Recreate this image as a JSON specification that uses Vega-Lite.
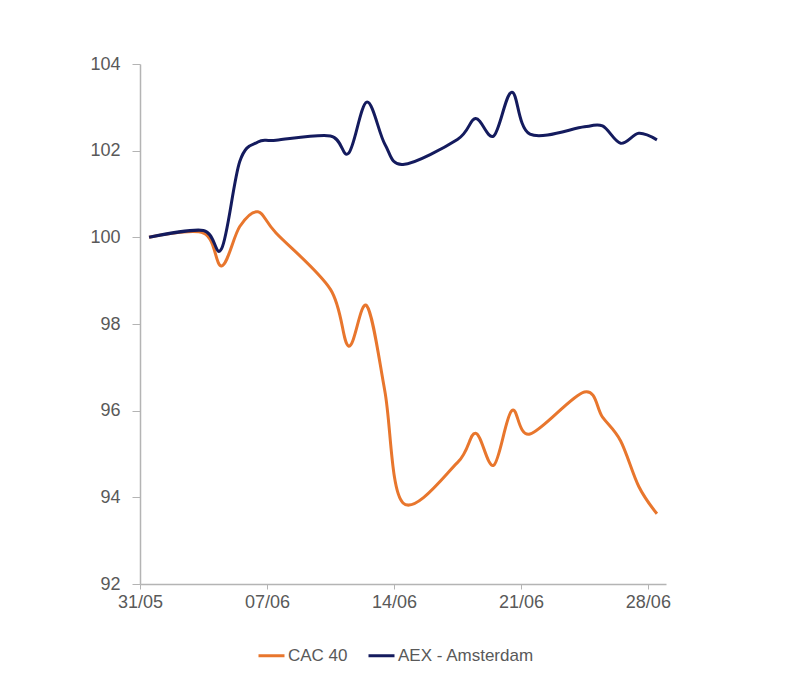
{
  "$schema": "https://vega.github.io/schema/vega-lite/v6.json",
  "width": 526,
  "height": 520,
  "padding": {"left": 89, "top": 55, "right": 10, "bottom": 10},
  "background": "white",
  "config": {
    "view": {"stroke": null},
    "font": "Liberation Sans",
    "axis": {"grid": false, "domainColor": "#B4B4B4", "tickColor": "#B4B4B4", "labelColor": "#595959", "labelFontSize": 17, "labelFont": "Liberation Sans", "domainWidth": 1.5, "tickWidth": 1}
  },
  "data": {
    "values": [
      {"date": "2024-05-31T12:00:00", "series": "CAC 40", "value": 100.00},
      {"date": "2024-06-03T12:00:00", "series": "CAC 40", "value": 100.10},
      {"date": "2024-06-04T12:00:00", "series": "CAC 40", "value": 99.34},
      {"date": "2024-06-05T12:00:00", "series": "CAC 40", "value": 100.25},
      {"date": "2024-06-06T12:00:00", "series": "CAC 40", "value": 100.59},
      {"date": "2024-06-07T12:00:00", "series": "CAC 40", "value": 100.10},
      {"date": "2024-06-10T12:00:00", "series": "CAC 40", "value": 98.80},
      {"date": "2024-06-11T12:00:00", "series": "CAC 40", "value": 97.49},
      {"date": "2024-06-12T12:00:00", "series": "CAC 40", "value": 98.42},
      {"date": "2024-06-13T12:00:00", "series": "CAC 40", "value": 96.45},
      {"date": "2024-06-14T12:00:00", "series": "CAC 40", "value": 93.87},
      {"date": "2024-06-17T12:00:00", "series": "CAC 40", "value": 94.80},
      {"date": "2024-06-18T12:00:00", "series": "CAC 40", "value": 95.48},
      {"date": "2024-06-19T12:00:00", "series": "CAC 40", "value": 94.74},
      {"date": "2024-06-20T12:00:00", "series": "CAC 40", "value": 96.00},
      {"date": "2024-06-21T12:00:00", "series": "CAC 40", "value": 95.46},
      {"date": "2024-06-24T12:00:00", "series": "CAC 40", "value": 96.43},
      {"date": "2024-06-25T12:00:00", "series": "CAC 40", "value": 95.85},
      {"date": "2024-06-26T12:00:00", "series": "CAC 40", "value": 95.30},
      {"date": "2024-06-27T12:00:00", "series": "CAC 40", "value": 94.25},
      {"date": "2024-06-28T12:00:00", "series": "CAC 40", "value": 93.62},
      {"date": "2024-05-31T12:00:00", "series": "AEX - Amsterdam", "value": 100.00},
      {"date": "2024-06-03T12:00:00", "series": "AEX - Amsterdam", "value": 100.16},
      {"date": "2024-06-04T12:00:00", "series": "AEX - Amsterdam", "value": 99.74},
      {"date": "2024-06-05T12:00:00", "series": "AEX - Amsterdam", "value": 101.75},
      {"date": "2024-06-06T12:00:00", "series": "AEX - Amsterdam", "value": 102.20},
      {"date": "2024-06-07T12:00:00", "series": "AEX - Amsterdam", "value": 102.24},
      {"date": "2024-06-10T12:00:00", "series": "AEX - Amsterdam", "value": 102.34},
      {"date": "2024-06-11T12:00:00", "series": "AEX - Amsterdam", "value": 101.94},
      {"date": "2024-06-12T12:00:00", "series": "AEX - Amsterdam", "value": 103.12},
      {"date": "2024-06-13T12:00:00", "series": "AEX - Amsterdam", "value": 102.15},
      {"date": "2024-06-14T12:00:00", "series": "AEX - Amsterdam", "value": 101.68},
      {"date": "2024-06-17T12:00:00", "series": "AEX - Amsterdam", "value": 102.26},
      {"date": "2024-06-18T12:00:00", "series": "AEX - Amsterdam", "value": 102.74},
      {"date": "2024-06-19T12:00:00", "series": "AEX - Amsterdam", "value": 102.34},
      {"date": "2024-06-20T12:00:00", "series": "AEX - Amsterdam", "value": 103.35},
      {"date": "2024-06-21T12:00:00", "series": "AEX - Amsterdam", "value": 102.38},
      {"date": "2024-06-24T12:00:00", "series": "AEX - Amsterdam", "value": 102.55},
      {"date": "2024-06-25T12:00:00", "series": "AEX - Amsterdam", "value": 102.57},
      {"date": "2024-06-26T12:00:00", "series": "AEX - Amsterdam", "value": 102.17},
      {"date": "2024-06-27T12:00:00", "series": "AEX - Amsterdam", "value": 102.40},
      {"date": "2024-06-28T12:00:00", "series": "AEX - Amsterdam", "value": 102.25}
    ]
  },
  "mark": {"type": "line", "interpolate": "cardinal", "strokeWidth": 3},
  "encoding": {
    "x": {
      "field": "date", "type": "temporal", "title": null,
      "scale": {"domain": [{"year": 2024, "month": 5, "date": 31}, {"year": 2024, "month": 6, "date": 29}]},
      "axis": {
        "values": [{"year": 2024, "month": 5, "date": 31}, {"year": 2024, "month": 6, "date": 7}, {"year": 2024, "month": 6, "date": 14}, {"year": 2024, "month": 6, "date": 21}, {"year": 2024, "month": 6, "date": 28}],
        "format": "%d/%m", "tickSize": 5, "labelPadding": 4, "labelFlush": false, "labelFontSize": 18
      }
    },
    "y": {
      "field": "value", "type": "quantitative", "title": null,
      "scale": {"domain": [92, 104], "nice": false, "zero": false},
      "axis": {"values": [92, 94, 96, 98, 100, 102, 104], "tickSize": 8, "labelPadding": 12, "labelFontSize": 18}
    },
    "color": {
      "field": "series", "type": "nominal", "title": null,
      "sort": ["CAC 40", "AEX - Amsterdam"],
      "scale": {"domain": ["CAC 40", "AEX - Amsterdam"], "range": ["#E8762D", "#141B5E"]},
      "legend": {
        "orient": "none", "direction": "horizontal", "legendX": 117, "legendY": 577,
        "symbolType": "stroke", "symbolSize": 676, "symbolStrokeWidth": 3,
        "labelFontSize": 17, "labelColor": "#595959", "labelFont": "Liberation Sans",
        "labelOffset": 2, "columnPadding": 14
      }
    }
  }
}
